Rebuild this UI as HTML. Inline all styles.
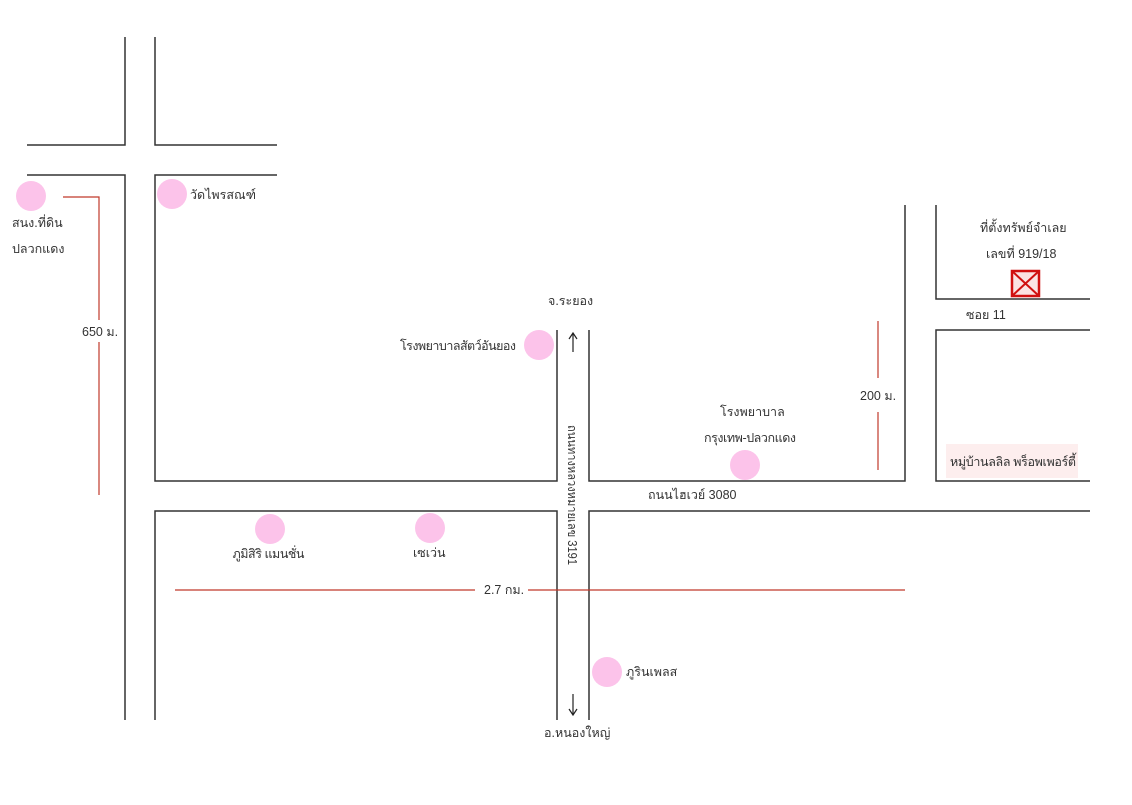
<!DOCTYPE html>
<html><head><meta charset="utf-8"><style>
html,body{margin:0;padding:0;background:#fff}
svg text{font-family:"Liberation Sans","DejaVu Sans",sans-serif;font-size:12.5px;fill:#333}
</style></head><body>
<svg width="1132" height="800" viewBox="0 0 1132 800" xmlns="http://www.w3.org/2000/svg">
<g stroke="#333" stroke-width="1.5" fill="none">
<path d="M125 37V145H27M155 37V145H277"/>
<path d="M27 175H125V720"/>
<path d="M277 175H155V481H557V330"/>
<path d="M589 330V481H905V205"/>
<path d="M155 720V511H557V720"/>
<path d="M589 720V511H1090"/>
<path d="M936 205V299H1090"/>
<path d="M1090 330H936V481H1090"/>
</g>
<g stroke="#c0392b" stroke-width="1.2" fill="none">
<path d="M63 197H99V320M99 342V495"/>
<path d="M878 321V378M878 412V470"/>
<path d="M175 590H475M528 590H905"/>
</g>
<g stroke="#222" stroke-width="1.2" fill="none">
<path d="M573 334V352M569 339L573 333L577 339"/>
<path d="M573 694V714M569 709L573 715L577 709"/>
</g>
<g fill="#fcc3ea">
<circle cx="31" cy="196" r="15"/><circle cx="172" cy="194" r="15"/>
<circle cx="539" cy="345" r="15"/><circle cx="745" cy="465" r="15"/>
<circle cx="270" cy="529" r="15"/><circle cx="430" cy="528" r="15"/>
<circle cx="607" cy="672" r="15"/>
</g>
<rect x="946" y="444" width="132" height="34" fill="#fdeeee"/>
<rect x="1012" y="271" width="27" height="25" fill="#fbe3e3" stroke="#d01010" stroke-width="2.5"/>
<path d="M1012 271L1039 296M1039 271L1012 296" stroke="#d01010" stroke-width="2"/>
<text x="12" y="227">สนง.ที่ดิน</text>
<text x="12" y="253">ปลวกแดง</text>
<text x="190" y="199">วัดไพรสณฑ์</text>
<text x="82" y="336">650 ม.</text>
<text x="548" y="305">จ.ระยอง</text>
<text x="400" y="350" textLength="116">โรงพยาบาลสัตว์อันยอง</text>
<text x="720" y="416">โรงพยาบาล</text>
<text x="704" y="442" textLength="92">กรุงเทพ-ปลวกแดง</text>
<text x="648" y="499">ถนนไฮเวย์ 3080</text>
<text x="860" y="400">200 ม.</text>
<text x="980" y="232">ที่ตั้งทรัพย์จำเลย</text>
<text x="986" y="258">เลขที่ 919/18</text>
<text x="966" y="319">ซอย 11</text>
<text x="950" y="466" textLength="126">หมู่บ้านลลิล พร็อพเพอร์ตี้</text>
<text x="232" y="558" textLength="72">ภูมิสิริ แมนชั่น</text>
<text x="413" y="557">เซเว่น</text>
<text x="484" y="594">2.7 กม.</text>
<text x="626" y="676">ภูรินเพลส</text>
<text x="544" y="737">อ.หนองใหญ่</text>
<text transform="translate(568,425) rotate(90)" textLength="140" lengthAdjust="spacingAndGlyphs">ถนนทางหลวงหมายเลข 3191</text>
</svg>
</body></html>
